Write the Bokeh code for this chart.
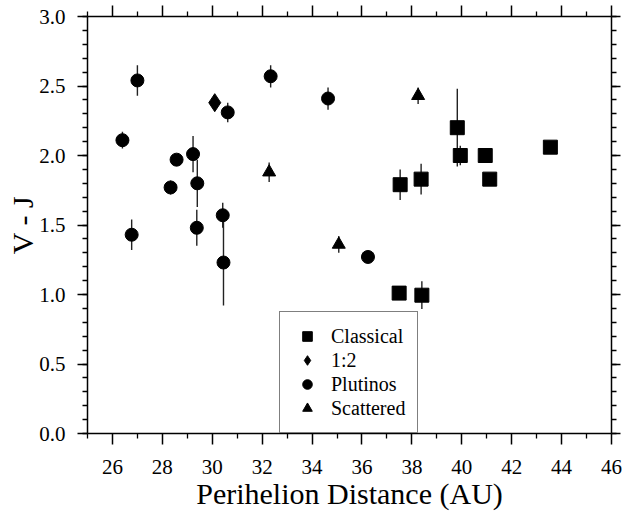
from bokeh.plotting import figure
from bokeh.models import (LinearAxis, FixedTicker, Legend, LegendItem, Range1d,
                          ColumnDataSource, PrintfTickFormatter)
from bokeh.embed import file_html
from bokeh.resources import INLINE

# ---- data ----
classical_q = [37.53, 37.49, 38.37, 38.40, 39.82, 39.94, 40.94, 41.12, 43.55]
classical_vj = [1.79, 1.01, 1.83, 0.995, 2.20, 2.00, 2.00, 1.83, 2.06]
classical_err = [0.11, 0.0, 0.11, 0.10, 0.28, 0.07, 0.02, 0.0, 0.0]

res12_q = [30.10]
res12_vj = [2.38]
res12_err = [0.0]

plutino_q = [26.40, 26.77, 27.00, 28.33, 28.57, 29.23, 29.40, 29.38, 30.42, 30.45,
             30.62, 32.34, 34.64, 36.24]
plutino_vj = [2.11, 1.43, 2.54, 1.77, 1.97, 2.01, 1.80, 1.48, 1.57, 1.23,
              2.31, 2.57, 2.41, 1.27]
plutino_err = [0.06, 0.11, 0.11, 0.05, 0.0, 0.13, 0.17, 0.13, 0.09, 0.31,
               0.07, 0.08, 0.08, 0.0]

scattered_q = [32.28, 35.07, 38.25]
scattered_vj = [1.88, 1.36, 2.43]
scattered_err = [0.07, 0.06, 0.06]

x_ticks = [26, 28, 30, 32, 34, 36, 38, 40, 42, 44, 46]
x_minor = [25, 27, 29, 31, 33, 35, 37, 39, 41, 43, 45]
y_ticks = [0.0, 0.5, 1.0, 1.5, 2.0, 2.5, 3.0]
y_minor = [round(0.1 * i, 1) for i in range(31)]

FONT = "Liberation Serif"

p = figure(width=625, height=512, output_backend="svg", toolbar_location=None,
           x_range=Range1d(25, 46), y_range=Range1d(0, 3),
           min_border_left=87, min_border_right=14, min_border_top=16,
           min_border_bottom=77)
p.grid.visible = False
p.outline_line_color = None
p.background_fill_color = "white"


def make_src(q, vj, err):
    return ColumnDataSource(dict(
        x=q, y=vj,
        lo=[v - e for v, e in zip(vj, err)],
        hi=[v + e for v, e in zip(vj, err)],
    ))


series = [
    ("Classical", classical_q, classical_vj, classical_err, "square", 14),
    ("1:2", res12_q, res12_vj, res12_err, "diamond", 18),
    ("Plutinos", plutino_q, plutino_vj, plutino_err, "circle", 13),
    ("Scattered", scattered_q, scattered_vj, scattered_err, "triangle", 13),
]

items = []
for label, q, vj, err, marker, size in series:
    src = make_src(q, vj, err)
    p.segment(x0="x", y0="lo", x1="x", y1="hi", source=src,
              line_color="#222222", line_width=1.4)
    r = p.scatter(x="x", y="y", source=src, marker=marker, size=size,
                  fill_color="black", line_color="black")
    items.append(LegendItem(label=label, renderers=[r]))

# axes styling
xt = FixedTicker(ticks=x_ticks, minor_ticks=x_minor)
yt = FixedTicker(ticks=y_ticks, minor_ticks=y_minor)


def style(ax, tick_out=11):
    ax.axis_line_width = 1.5
    ax.axis_line_color = "black"
    ax.major_tick_line_width = 1.5
    ax.minor_tick_line_width = 1.3
    ax.major_tick_line_color = "black"
    ax.minor_tick_line_color = "black"
    ax.major_tick_in = 0
    ax.major_tick_out = tick_out
    ax.minor_tick_in = 0
    ax.minor_tick_out = 5
    ax.major_label_text_font = FONT
    ax.major_label_text_font_size = "21px"
    ax.major_label_text_color = "black"
    ax.axis_label_text_font = FONT
    ax.axis_label_text_font_size = "30px"
    ax.axis_label_text_font_style = "normal"
    ax.axis_label_text_color = "black"


xa = p.xaxis[0]
xa.ticker = xt
style(xa, 11)
xa.axis_label = "Perihelion Distance (AU)"
xa.major_label_standoff = 15
xa.axis_label_standoff = 0

ya = p.yaxis[0]
ya.ticker = yt
ya.formatter = PrintfTickFormatter(format="%.1f")
style(ya, 10)
ya.axis_label = "V - J"
ya.major_label_standoff = 12
ya.axis_label_standoff = -3

# mirrored tick-only axes on top and right (no labels drawn)
top = LinearAxis(ticker=FixedTicker(ticks=x_ticks, minor_ticks=x_minor))
style(top, 11)
top.major_label_text_font_size = "1px"
top.major_label_text_color = None
top.major_label_standoff = 0
p.add_layout(top, "above")

right = LinearAxis(ticker=FixedTicker(ticks=y_ticks, minor_ticks=y_minor))
style(right, 9)
right.major_label_text_font_size = "1px"
right.major_label_text_color = None
right.major_label_standoff = 0
p.add_layout(right, "right")

legend = Legend(items=items, location=(192, 0))
legend.margin = 0
legend.padding = 12
legend.spacing = 0
legend.glyph_height = 24
legend.glyph_width = 30
legend.label_height = 22
legend.label_standoff = 9
legend.label_text_font = FONT
legend.label_text_font_size = "20px"
legend.label_text_color = "black"
legend.border_line_color = "black"
legend.border_line_width = 1.2
legend.background_fill_color = "white"
legend.background_fill_alpha = 1.0
p.add_layout(legend)

open("out.html", "w").write(file_html(p, INLINE))
